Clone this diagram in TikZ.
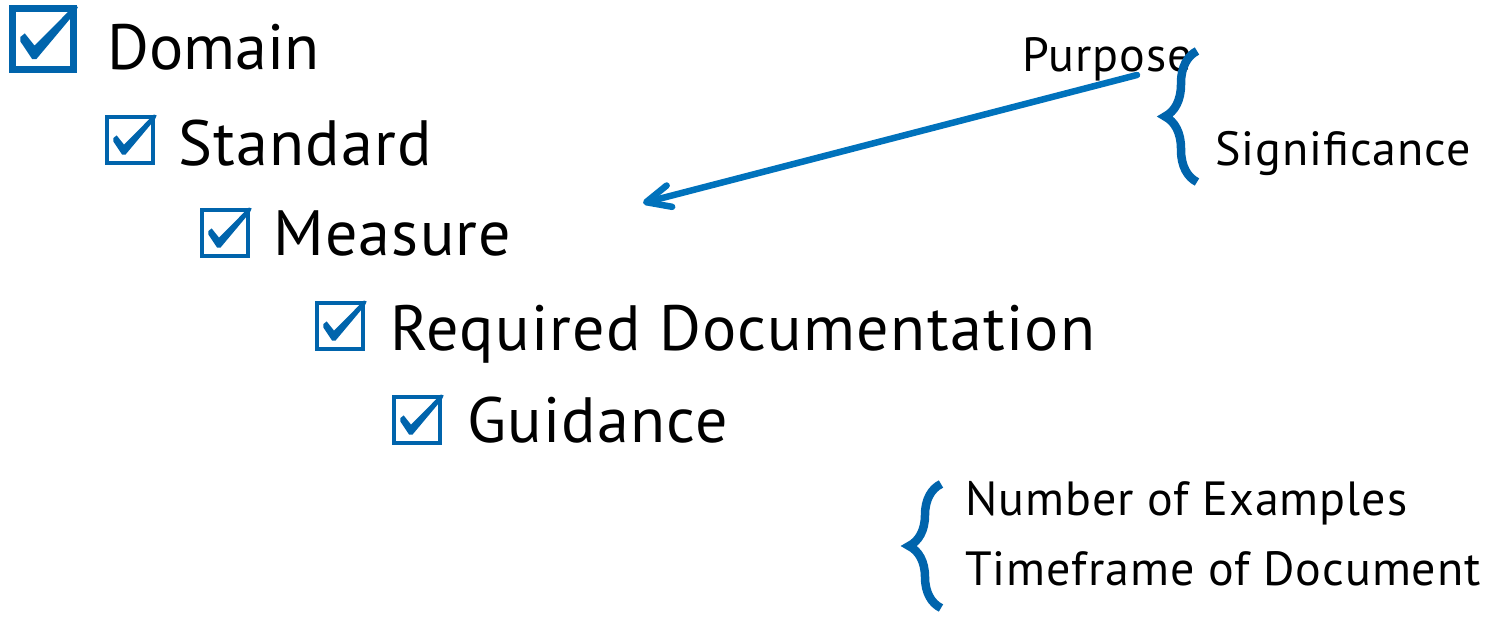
\documentclass[tikz,border=0pt]{standalone}
\usepackage{fontspec}
\setmainfont{PT Sans}
\usetikzlibrary{arrows.meta,decorations.pathreplacing}
\definecolor{cbblue}{RGB}{0,100,172}
\definecolor{arblue}{RGB}{0,114,188}
\tikzset{
  cbox/.style={draw=cbblue, line width=#1, inner sep=0pt, outer sep=0pt, anchor=north west},
  chk/.pic={\fill[cbblue] (0.136,0.46) -- (0.21,0.40) -- (0.37,0.60) -- (1.02,-0.054) -- (1.08,-0.033)
      -- (1.04,0.056) -- (0.40,0.82) -- (0.33,0.82) -- (0.136,0.53) -- cycle;},
  big/.style={font=\fontsize{64}{70}\selectfont, anchor=base west, inner sep=0pt},
  mid/.style={font=\fontsize{64}{70}\selectfont\addfontfeature{LetterSpace=2}, anchor=base west, inner sep=0pt},
  small/.style={font=\fontsize{48}{52}\selectfont\addfontfeature{LetterSpace=2}, anchor=base west, inner sep=0pt},
  bracestyle/.style={draw=cbblue, line width=8.5pt, decorate, decoration={brace, amplitude=#1}},
  arrowstyle/.style={draw=arblue, line width=6.5pt, line cap=round, -{Straight Barb[length=24pt,width=22pt,round]}}
}
\begin{document}
\begin{tikzpicture}[x=1pt,y=-1pt]
\useasboundingbox (0,0) rectangle (1492,618);
% checkboxes
\node[cbox=7pt, minimum size=61pt] (b1) at (12,9) {};
\pic[scale=61] at (12,9) {chk};
\node[cbox=4pt, minimum size=46pt] (b2) at (107,117) {};
\pic[scale=46] at (107,117) {chk};
\node[cbox=4pt, minimum size=46pt] (b3) at (202,210) {};
\pic[scale=46] at (202,210) {chk};
\node[cbox=4pt, minimum size=46pt] (b4) at (317,303) {};
\pic[scale=46] at (317,303) {chk};
\node[cbox=4pt, minimum size=46pt] (b5) at (394,397) {};
\pic[scale=46] at (394,397) {chk};
% texts
\node[big] (t1) at (107,70) {Domain};
\node[mid] (t2) at (178,165) {Standard};
\node[mid] (t3) at (273,255) {Measure};
\node[mid] (t4) at (390,350) {Required Documentation};
\node[mid] (t5) at (467,442) {Guidance};
\node[small] (p) at (1022,72) {Purpose};
\node[small] (s) at (1215,165) {Significance};
\node[small] (n) at (965,515) {Number of Examples};
\node[small] (tf) at (965,585) {Timeframe of Document};
% arrow
\coordinate (as) at (1137,75);
\coordinate (ae) at (643,203);
\draw[arrowstyle] (as) -- (ae);
% braces
\coordinate (br1a) at (1197,182);
\coordinate (br1b) at (1197,51);
\draw[bracestyle=32pt] (br1a) -- (br1b);
\coordinate (br2a) at (941,608);
\coordinate (br2b) at (941,484);
\draw[bracestyle=32pt] (br2a) -- (br2b);
\end{tikzpicture}
\end{document}
